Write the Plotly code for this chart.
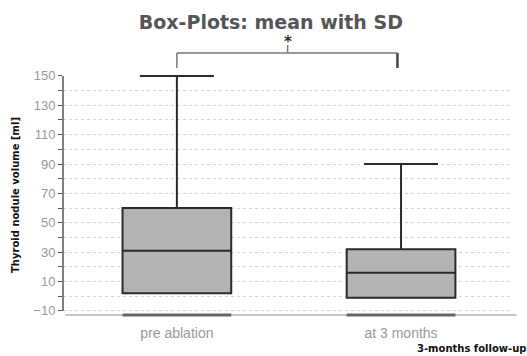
import plotly.graph_objects as go

categories = ["pre ablation", "at 3 months"]
q1 = [2, -1]
median = [31, 16]
q3 = [60, 32]
lower = [2, -1]
upper = [150, 90]
ytick_vals = [-10, 10, 30, 50, 70, 90, 110, 130, 150]

x_range = [-0.508, 1.495]
y_range = [-12.8, 150.6]

fig = go.Figure()
fig.add_trace(go.Box(
    x=categories, q1=q1, median=median, q3=q3,
    lowerfence=lower, upperfence=upper,
    fillcolor="#b3b3b3",
    line=dict(color="#2a2a2a", width=2),
    whiskerwidth=0.68, width=0.485,
    boxpoints=False, showlegend=False, hoverinfo="skip",
))

def xpaper(i):
    return (i - x_range[0]) / (x_range[1] - x_range[0])

shapes = []
# y axis line from -10 to 150
shapes.append(dict(type="line", xref="paper", yref="y", x0=0, x1=0,
                   y0=ytick_vals[0], y1=ytick_vals[-1], line=dict(color="#555", width=1.5)))
# bottom axis line
shapes.append(dict(type="line", xref="paper", yref="paper", x0=0.005, x1=1.01,
                   y0=0, y1=0, line=dict(color="#888", width=1.2)))
# category bands under boxes
for i in range(len(categories)):
    shapes.append(dict(type="line", xref="x", yref="paper", x0=i - 0.2425, x1=i + 0.2425,
                       y0=0, y1=0, line=dict(color="#666", width=3)))
# significance bracket
yb0, yb1, yb2 = 1.029, 1.092, 1.125
shapes.append(dict(type="line", xref="paper", yref="paper", x0=xpaper(0), x1=xpaper(0),
                   y0=yb0, y1=yb1, line=dict(color="#777", width=1.5)))
shapes.append(dict(type="line", xref="paper", yref="paper", x0=xpaper(1) - 0.008, x1=xpaper(1) - 0.008,
                   y0=yb0, y1=yb1, line=dict(color="#444", width=2.5)))
shapes.append(dict(type="line", xref="paper", yref="paper", x0=xpaper(0), x1=xpaper(1) - 0.008,
                   y0=yb1, y1=yb1, line=dict(color="#777", width=1.5)))
xm = (xpaper(0) + xpaper(1)) / 2 - 0.003
shapes.append(dict(type="line", xref="paper", yref="paper", x0=xm, x1=xm,
                   y0=yb1, y1=yb2, line=dict(color="#777", width=1.5)))

fig.update_layout(
    width=527, height=356,
    margin=dict(l=63, r=15, t=75, b=41),
    paper_bgcolor="white", plot_bgcolor="white",
    title=dict(text="<b>Box-Plots: mean with SD</b>", x=0.514, xanchor="center",
               y=1 - 16 / 356, yanchor="top",
               font=dict(family="DejaVu Sans", size=19, color="#555")),
    shapes=shapes,
    annotations=[
        dict(text="<b>*</b>", xref="paper", yref="paper", x=xm, y=1.138, yanchor="middle",
             showarrow=False, font=dict(family="DejaVu Sans", size=15, color="#333")),
        dict(text="<b>3-months follow-up</b>", xref="paper", yref="paper", x=1.035, xanchor="right",
             y=-0.14, yanchor="middle", showarrow=False,
             font=dict(family="DejaVu Sans", size=10, color="#111")),
    ],
    xaxis=dict(range=x_range, showgrid=False, showline=False, zeroline=False,
               ticks="", tickfont=dict(family="Liberation Sans", size=14, color="#999"),
               ticklabelstandoff=8, fixedrange=True),
    yaxis=dict(range=y_range, tickvals=ytick_vals, showline=False, zeroline=False,
               showgrid=True, gridcolor="#d2d2d2", griddash="dot", gridwidth=1,
               ticks="outside", ticklen=4, tickcolor="#555", tickwidth=1.2,
               tickfont=dict(family="Liberation Sans", size=13, color="#999"),
               minor=dict(tickvals=[v + 10 for v in ytick_vals[:-1]], ticks="outside", ticklen=4,
                          tickcolor="#555", showgrid=True, gridcolor="#d2d2d2", griddash="dot"),
               title=dict(text="<b>Thyroid nodule volume [ml]</b>", standoff=11,
                          font=dict(family="DejaVu Sans", size=10, color="#111"))),
)

fig.write_html("out.html", config={"displayModeBar": False},
               post_script="document.body.style.margin='0';document.body.style.padding='0';")
